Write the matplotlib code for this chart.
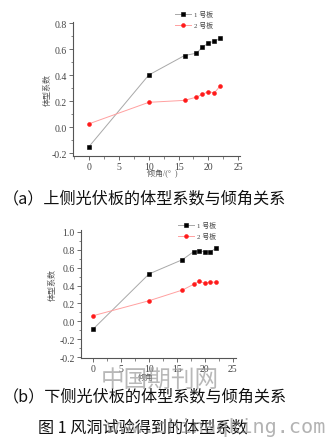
import matplotlib
matplotlib.use('Agg')
import matplotlib.pyplot as plt
from matplotlib.ticker import AutoMinorLocator, MultipleLocator

plt.rcParams['font.family'] = ['Liberation Serif', 'Noto Sans CJK SC', 'DejaVu Sans']

# 倾角
angles = [0, 10, 16, 18, 19, 20, 21, 22]

# (a) 上侧光伏板
upper_1 = [-0.15, 0.40, 0.55, 0.568, 0.614, 0.647, 0.66, 0.683]
upper_2 = [0.025, 0.19, 0.205, 0.23, 0.252, 0.273, 0.262, 0.318]
upper_yticks = [-0.2, 0.0, 0.2, 0.4, 0.6, 0.8]
upper_ylabels = ['-0.2', '0.0', '0.2', '0.4', '0.6', '0.8']

# (b) 下侧光伏板
lower_1 = [-0.086, 0.53, 0.69, 0.78, 0.79, 0.776, 0.775, 0.82]
lower_2 = [0.063, 0.23, 0.35, 0.414, 0.45, 0.425, 0.44, 0.435]
lower_yticks = [-0.4, -0.2, 0.0, 0.2, 0.4, 0.6, 0.8, 1.0]
lower_ylabels = ['-0.2', '-0.2', '0.0', '0.2', '0.4', '0.6', '0.8', '1.0']

xticks = [0, 5, 10, 15, 20, 25]
series_names = ['1 号板', '2 号板']

W, H = 326, 439
fig = plt.figure(figsize=(W / 100, H / 100), dpi=100)


def fx(px):
    return px / W


def fy(py):
    return 1 - py / H


def draw_panel(ax, s1, s2, yticks, ylabels, xlim, ylim):
    ax.plot(angles, s1, color='#a8a8a8', lw=0.7, marker='s', ms=2.6, mew=0.4,
            mfc='black', mec='black', label=series_names[0])
    ax.plot(angles, s2, color='#ffa0a0', lw=0.7, marker='o', ms=2.8, mew=0.4,
            mfc='#ff1a1a', mec='#ff1a1a', label=series_names[1])
    ax.set_xlim(*xlim)
    ax.set_ylim(*ylim)
    ax.set_xticks(xticks)
    ax.set_yticks(yticks)
    ax.set_yticklabels(ylabels)
    ax.xaxis.set_minor_locator(MultipleLocator(2.5))
    ax.yaxis.set_minor_locator(AutoMinorLocator(2))
    for s in ['top', 'right']:
        ax.spines[s].set_visible(False)
    for s in ['left', 'bottom']:
        ax.spines[s].set_color('#555555')
        ax.spines[s].set_linewidth(0.8)
    ax.tick_params(which='major', direction='out', length=3, width=0.6,
                   colors='#555555', labelsize=7, labelcolor='#444444', pad=1.5)
    ax.tick_params(which='minor', direction='out', length=1.8, width=0.5,
                   colors='#555555')
    for lab in ax.get_xticklabels() + ax.get_yticklabels():
        lab.set_family('Liberation Serif')


# 上图
ax1 = fig.add_axes([fx(73), fy(157), fx(240 - 73), (157 - 23) / H])
draw_panel(ax1, upper_1, upper_2, upper_yticks, upper_ylabels,
           (-2.7, 25.3), (-0.223, 0.808))
ax1.legend(loc='upper left', bbox_to_anchor=(fx(172), fy(8)),
           bbox_transform=fig.transFigure, frameon=False, fontsize=5,
           handlelength=2.2, handletextpad=0.4, labelspacing=0.5,
           borderpad=0, labelcolor='#444444')

# 下图
ax2 = fig.add_axes([fx(81), fy(359), fx(236 - 81), (359 - 231) / H])
draw_panel(ax2, lower_1, lower_2, lower_yticks, lower_ylabels,
           (-2.2, 25.6), (-0.411, 1.022))
ax2.legend(loc='upper left', bbox_to_anchor=(fx(175), fy(219)),
           bbox_transform=fig.transFigure, frameon=False, fontsize=5,
           handlelength=2.2, handletextpad=0.4, labelspacing=0.5,
           borderpad=0, labelcolor='#444444')

# 轴标签
fig.text(fx(48), fy(90), '体型系数', rotation=90, ha='center', va='center',
         fontsize=5.8, color='#555555')
fig.text(fx(162), fy(174), '倾角/(°  )', ha='center', va='center',
         fontsize=5.8, color='#555555')
fig.text(fx(53), fy(285), '体型系数', rotation=90, ha='center', va='center',
         fontsize=5.8, color='#555555')
fig.text(fx(146), fy(378), '倾角', ha='center', va='center',
         fontsize=5.8, color='#555555')

# 图注
cap = dict(family=['Noto Sans CJK SC', 'DejaVu Sans'], fontsize=11.6, color='#111111',
           va='center', ha='left')
fig.text(fx(3), fy(199), '（a）上侧光伏板的体型系数与倾角关系', **cap)
fig.text(fx(3), fy(397), '（b）下侧光伏板的体型系数与倾角关系', **cap)
fig.text(fx(38), fy(428), '图 1 风洞试验得到的体型系数', **cap)

# 水印
fig.text(fx(160), fy(380), '中国期刊网', ha='center', va='center', fontsize=17,
         family=['Noto Sans CJK SC'], color='#9a9a9a', alpha=0.7)
fig.text(fx(325), fy(428), 'www.chinaqking.com', ha='right', va='center',
         fontsize=14.5, family='DejaVu Sans Mono', color='#8a8a8a', alpha=0.65)

fig.savefig('out.png', dpi=100)
